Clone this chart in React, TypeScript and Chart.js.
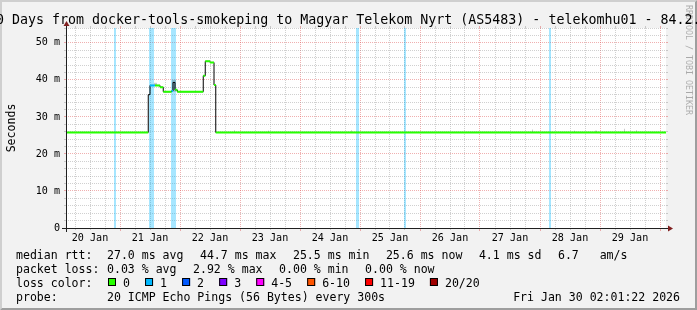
import React, { useEffect, useRef } from 'react';
import { Chart, registerables } from 'chart.js';

Chart.register(...registerables);

const FONT = '"DejaVu Sans Mono", "Liberation Mono", monospace';
const W = 697;
const H = 310;

// ---- texts ----
const titleText = '10 Days from docker-tools-smokeping to Magyar Telekom Nyrt (AS5483) - telekomhu01 - 84.2.';
const yAxisTitle = 'Seconds';
const watermarkText = 'RRDTOOL / TOBI OETIKER';
const dayLabels = ['20 Jan', '21 Jan', '22 Jan', '23 Jan', '24 Jan', '25 Jan', '26 Jan', '27 Jan', '28 Jan', '29 Jan'];
const yTickLabels = ['0', '10 m', '20 m', '30 m', '40 m', '50 m'];

// ---- data (x = hours since 20 Jan 00:00, y = ms) ----
const medianTimes = [2.4, 35.3, 36.0, 38.0, 40.0, 41.3, 44.6, 45.2, 46.0, 46.9, 57.3, 58.1, 60.0, 61.6, 62.3, 242.4];
const medianValues = [25.8, 36.0, 38.5, 38.5, 38.0, 36.8, 37.0, 39.3, 37.3, 36.8, 41.1, 45.0, 44.7, 38.6, 25.8, 25.8];
const medianLoss = [0, -1, 1, 0, 0, 0, 1, -1, 0, 0, 0, 0, 0, 0, 0, 0];

const lossBandStart = [21.4, 35.4, 44.4, 118.4, 137.4, 195.4];
const lossBandEnd = [22.4, 37.4, 46.4, 119.4, 138.4, 196.4];

const smokeStart = [37.6, 44.6, 69.6, 83.0, 116.4, 188.6, 205.4, 213.8, 225.4, 230.4];
const smokeEnd = [38.8, 46.2, 70.0, 83.4, 116.8, 189.0, 205.8, 214.6, 225.8, 230.8];
const smokeLow = [38.5, 36.8, 25.8, 25.8, 25.8, 25.8, 25.8, 25.8, 25.8, 25.8];
const smokeHigh = [39.2, 40.0, 26.4, 26.3, 26.4, 26.6, 26.3, 26.3, 26.8, 26.4];

// ---- legend ----
const medianLegend = ['27.0 ms avg', '44.7 ms max', '25.5 ms min', '25.6 ms now', '4.1 ms sd', '6.7   am/s'];
const lossLegend = ['0.03 % avg', '2.92 % max', '0.00 % min', '0.00 % now'];
const lossColorLabels = ['0', '1', '2', '3', '4-5', '6-10', '11-19', '20/20'];
const lossColors = ['#26ff00', '#00b8ff', '#0059ff', '#7e00ff', '#ff00ff', '#ff5500', '#ff0000', '#a00000'];
const probeText = '20 ICMP Echo Pings (56 Bytes) every 300s';
const dateText = 'Fri Jan 30 02:01:22 2026';

const X_MIN = 2.4;
const X_MAX = 242.4;
const Y_MAX = 54;

// ---- styles ----
const BACK = 'rgb(242,242,242)';
const SHADEA = 'rgb(207,207,207)';
const SHADEB = 'rgb(158,158,158)';
const GRID = 'rgba(143,143,143,0.42)';
const MGRID = 'rgba(222,79,79,0.45)';
const AXIS = 'rgb(31,31,31)';
const ARROW = 'rgb(128,31,31)';
const LOSS_BG = 'rgba(0,184,255,0.35)';
const SMOKE = 'rgba(0,0,0,0.2)';

function segmentsFor(level: number) {
  const pts: { x: number; y: number | null }[] = [];
  for (let i = 0; i < medianTimes.length - 1; i++) {
    if (medianLoss[i] !== level) continue;
    pts.push({ x: medianTimes[i], y: medianValues[i] });
    pts.push({ x: medianTimes[i + 1], y: medianValues[i] });
    pts.push({ x: medianTimes[i + 1], y: null });
  }
  return pts;
}

const rrdPlugin = {
  id: 'rrd',
  beforeDraw(chart: any) {
    const { ctx, chartArea: a } = chart;
    ctx.save();
    ctx.fillStyle = BACK;
    ctx.fillRect(0, 0, W, H);
    ctx.fillStyle = SHADEA;
    ctx.beginPath();
    ctx.moveTo(0, H); ctx.lineTo(2, H - 2); ctx.lineTo(2, 2); ctx.lineTo(W - 2, 2); ctx.lineTo(W, 0); ctx.lineTo(0, 0);
    ctx.closePath(); ctx.fill();
    ctx.fillStyle = SHADEB;
    ctx.beginPath();
    ctx.moveTo(2, H - 2); ctx.lineTo(W - 2, H - 2); ctx.lineTo(W - 2, 2); ctx.lineTo(W, 0); ctx.lineTo(W, H); ctx.lineTo(0, H);
    ctx.closePath(); ctx.fill();
    ctx.fillStyle = '#ffffff';
    ctx.fillRect(a.left, a.top, a.right - a.left, a.bottom - a.top);
    ctx.restore();
  },
  beforeDatasetsDraw(chart: any) {
    const { ctx, chartArea: a, scales } = chart;
    const x = scales.x, y = scales.y;
    ctx.save();
    ctx.beginPath();
    ctx.rect(a.left, a.top, a.right - a.left, a.bottom - a.top);
    ctx.clip();
    ctx.fillStyle = LOSS_BG;
    lossBandStart.forEach((s, i) => {
      const x0 = Math.round(x.getPixelForValue(s));
      const x1 = Math.round(x.getPixelForValue(lossBandEnd[i]));
      ctx.fillRect(x0, a.top, x1 - x0, a.bottom - a.top);
    });
    ctx.fillStyle = SMOKE;
    smokeStart.forEach((s, i) => {
      const x0 = Math.round(x.getPixelForValue(s));
      const x1 = Math.max(x0 + 1, Math.round(x.getPixelForValue(smokeEnd[i])));
      const y0 = y.getPixelForValue(smokeHigh[i]);
      const y1 = y.getPixelForValue(smokeLow[i]);
      ctx.fillRect(x0, y0, x1 - x0, y1 - y0);
    });
    ctx.restore();
  },
  afterDatasetsDraw(chart: any) {
    const { ctx, chartArea: a, scales } = chart;
    const xs = scales.x, ys = scales.y;
    ctx.save();
    ctx.lineWidth = 1;
    xs.ticks.forEach((t: any) => {
      const px = Math.round(xs.getPixelForValue(t.value) - 0.5) + 0.5;
      const major = t.value % 24 === 0;
      ctx.strokeStyle = major ? MGRID : GRID;
      ctx.beginPath();
      ctx.moveTo(px, a.top - 2); ctx.lineTo(px, a.top);
      ctx.moveTo(px, a.bottom); ctx.lineTo(px, a.bottom + (major ? 3 : 2));
      ctx.stroke();
    });
    ys.ticks.forEach((t: any) => {
      const py = Math.round(ys.getPixelForValue(t.value) - 0.5) + 0.5;
      const major = t.value % 10 === 0;
      ctx.strokeStyle = major ? MGRID : GRID;
      ctx.beginPath();
      ctx.moveTo(a.left - 2, py); ctx.lineTo(a.left, py);
      ctx.moveTo(a.right, py); ctx.lineTo(a.right + 2, py);
      ctx.stroke();
    });
    const ax = a.left + 0.5;
    const ay = a.bottom + 0.5;
    ctx.strokeStyle = AXIS;
    ctx.beginPath();
    ctx.moveTo(a.left - 4, ay); ctx.lineTo(a.right + 4, ay);
    ctx.moveTo(ax, a.bottom + 4); ctx.lineTo(ax, a.top - 4);
    ctx.stroke();
    ctx.fillStyle = ARROW;
    ctx.beginPath();
    ctx.moveTo(a.right + 2, ay - 3); ctx.lineTo(a.right + 2, ay + 3); ctx.lineTo(a.right + 7, ay);
    ctx.closePath(); ctx.fill();
    ctx.beginPath();
    ctx.moveTo(ax - 3, a.top - 2); ctx.lineTo(ax + 3, a.top - 2); ctx.lineTo(ax, a.top - 7);
    ctx.closePath(); ctx.fill();
    ctx.restore();
  },
  afterDraw(chart: any) {
    const { ctx, chartArea: a } = chart;
    ctx.save();
    ctx.fillStyle = '#000';
    ctx.textAlign = 'left';
    ctx.textBaseline = 'alphabetic';
    // title
    ctx.font = `13.3px ${FONT}`;
    ctx.fillText(titleText, -12, 23.5);
    // watermark
    ctx.save();
    ctx.font = `8.3px ${FONT}`;
    ctx.fillStyle = 'rgba(0,0,0,0.3)';
    ctx.translate(688.5, 5);
    ctx.rotate(Math.PI / 2);
    ctx.textBaseline = 'middle';
    ctx.fillText(watermarkText, 0, 0);
    ctx.restore();
    // y axis title
    ctx.save();
    ctx.font = `11.55px ${FONT}`;
    ctx.translate(15, (a.top + a.bottom) / 2);
    ctx.rotate(-Math.PI / 2);
    ctx.textAlign = 'center';
    ctx.fillText(yAxisTitle, 0, 0);
    ctx.restore();
    // legend
    ctx.font = `11.55px ${FONT}`;
    const L = 16;
    const col = 107;
    const gap = 16.5;
    const base = [258.5, 272.5, 286.5, 300.5];
    ctx.fillText('median rtt:', L, base[0]);
    let x = col;
    medianLegend.forEach((t) => { ctx.fillText(t, x, base[0]); x += ctx.measureText(t).width + gap; });
    ctx.fillText('packet loss:', L, base[1]);
    x = col;
    lossLegend.forEach((t) => { ctx.fillText(t, x, base[1]); x += ctx.measureText(t).width + gap; });
    ctx.fillText('loss color:', L, base[2]);
    let bx = 108;
    lossColorLabels.forEach((t, i) => {
      ctx.fillStyle = lossColors[i];
      ctx.fillRect(bx, base[2] - 8.5, 8, 8);
      ctx.strokeStyle = '#000';
      ctx.lineWidth = 1;
      ctx.strokeRect(bx + 0.5, base[2] - 8, 7, 7);
      ctx.fillStyle = '#000';
      const tx = bx + 15;
      ctx.fillText(t, tx, base[2]);
      bx = tx + ctx.measureText(t).width + 15.1;
    });
    ctx.fillText('probe:', L, base[3]);
    ctx.fillText(probeText, col, base[3]);
    ctx.textAlign = 'right';
    ctx.fillText(dateText, 680, base[3]);
    ctx.restore();
  },
};

export default function App() {
  const ref = useRef<HTMLCanvasElement>(null);
  useEffect(() => {
    const canvas = ref.current;
    if (!canvas) return;
    const chart = new Chart(canvas, {
      type: 'line',
      data: {
        datasets: [
          {
            label: 'median',
            data: medianTimes.map((t, i) => ({ x: t, y: medianValues[i] })),
            stepped: true,
            borderColor: '#000000',
            borderWidth: 1,
            pointRadius: 0,
            fill: false,
            order: 3,
          },
          {
            label: 'loss 0',
            data: segmentsFor(0),
            borderColor: lossColors[0],
            borderWidth: 2,
            pointRadius: 0,
            fill: false,
            spanGaps: false,
            order: 1,
          },
          {
            label: 'loss 1',
            data: segmentsFor(1),
            borderColor: lossColors[1],
            borderWidth: 2,
            pointRadius: 0,
            fill: false,
            spanGaps: false,
            order: 1,
          },
        ],
      } as any,
      options: {
        animation: false,
        responsive: false,
        devicePixelRatio: 1,
        events: [],
        layout: { padding: { top: 28, right: 31, bottom: 0, left: 0 } },
        plugins: { legend: { display: false }, tooltip: { enabled: false }, title: { display: false } },
        scales: {
          x: {
            type: 'linear',
            min: X_MIN,
            max: X_MAX,
            afterBuildTicks: (s: any) => {
              const t: any[] = [];
              for (let h = 6; h <= X_MAX; h += 6) t.push({ value: h });
              s.ticks = t;
            },
            afterFit: (s: any) => { s.height = H - 228; },
            grid: {
              color: (c: any) => (c.tick && c.tick.value % 24 === 0 ? MGRID : GRID),
              lineWidth: 1,
              drawTicks: false,
            },
            border: { display: false, dash: [1, 1] },
            ticks: {
              autoSkip: false,
              maxRotation: 0,
              minRotation: 0,
              padding: 4,
              color: '#000',
              font: { family: FONT, size: 10.1 },
              callback: (v: any) => {
                const h = Number(v);
                return h % 24 === 12 ? dayLabels[Math.floor(h / 24)] : '';
              },
            },
          },
          y: {
            type: 'linear',
            min: 0,
            max: Y_MAX,
            afterFit: (s: any) => { s.width = 66; },
            grid: {
              color: (c: any) => (c.tick && c.tick.value % 10 === 0 ? MGRID : GRID),
              lineWidth: 1,
              drawTicks: false,
            },
            border: { display: false, dash: [1, 1] },
            ticks: {
              stepSize: 2,
              autoSkip: false,
              padding: 6,
              color: '#000',
              font: { family: FONT, size: 10.1 },
              callback: (v: any) => {
                const n = Number(v);
                return n % 10 === 0 ? yTickLabels[n / 10] : '';
              },
            },
          },
        },
      } as any,
      plugins: [rrdPlugin],
    });
    return () => chart.destroy();
  }, []);
  return (
    <div style={{ position: 'absolute', left: 0, top: 0, width: W, height: H }}>
      <canvas ref={ref} width={W} height={H} style={{ display: 'block', width: W, height: H }} />
    </div>
  );
}
